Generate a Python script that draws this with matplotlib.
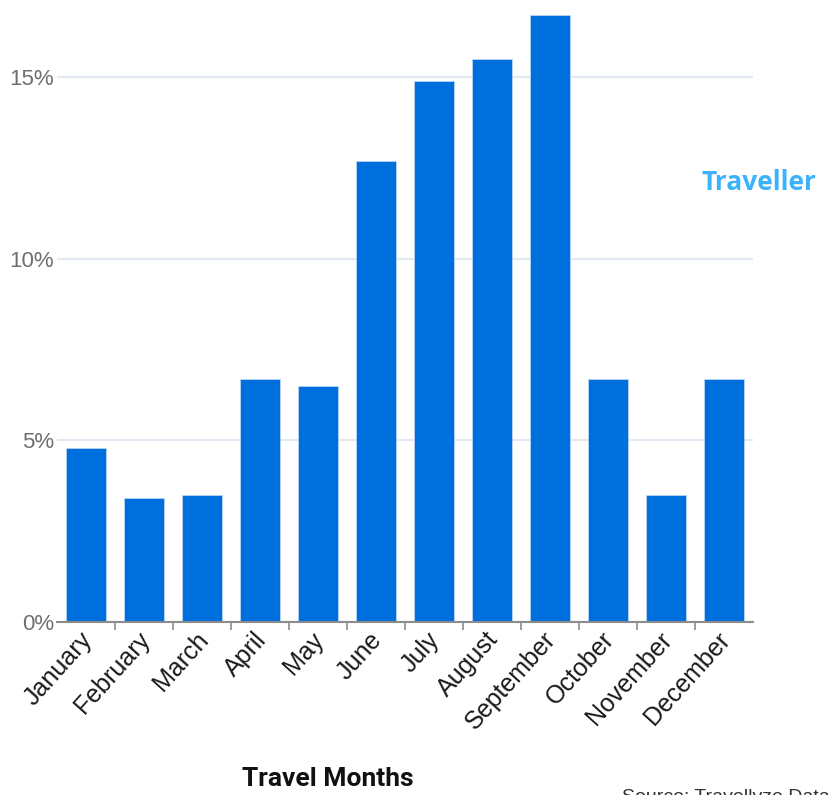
import matplotlib
matplotlib.use("Agg")
import matplotlib.pyplot as plt
from matplotlib.ticker import FuncFormatter
from matplotlib.transforms import ScaledTranslation

months = ["January", "February", "March", "April", "May", "June", "July",
          "August", "September", "October", "November", "December"]
share_pct = [4.8, 3.4, 3.5, 6.7, 6.5, 12.7, 14.9, 15.5, 16.7, 6.7, 3.5, 6.7]
y_ticks = [0, 5, 10, 15]

W, H = 835, 795
fig = plt.figure(figsize=(W / 100, H / 100), dpi=100)
ax = fig.add_axes([57 / W, (H - 622) / H, (753 - 57) / W, 622 / H])

x = list(range(len(months)))
ax.bar(x, share_pct, width=0.69, color="#006fde", edgecolor="#b9d6f5",
       linewidth=0.6, zorder=3)

ax.set_xlim(-0.5, len(months) - 0.5)
ax.set_ylim(0, 17.12)

ax.set_yticks(y_ticks)
ax.yaxis.set_major_formatter(FuncFormatter(lambda v, p: f"{v:.0f}%"))
ax.tick_params(axis="y", length=0, pad=2, labelsize=16, labelcolor="#6f6f6f")
for lbl in ax.get_yticklabels():
    lbl.set_family("Liberation Sans")
ax.grid(axis="y", color="#e3e9f3", linewidth=1.6, zorder=0)

# category ticks sit on the band boundaries
ax.set_xticks([i - 0.5 for i in x[1:]], minor=True)
ax.set_xticks(x)
ax.set_xticklabels(months, rotation=48, ha="right", va="top",
                   rotation_mode="anchor", fontsize=18, color="#1a1a1a",
                   family="Liberation Sans")
ax.tick_params(axis="x", which="major", length=0, pad=4)
ax.tick_params(axis="x", which="minor", length=6, width=1.2, color="#8c8c8c")
shift = ScaledTranslation(-7 / 100, 0, fig.dpi_scale_trans)
for lbl in ax.get_xticklabels():
    lbl.set_transform(lbl.get_transform() + shift)

for side in ("top", "right", "left"):
    ax.spines[side].set_visible(False)
ax.spines["bottom"].set_color("#8c8c8c")
ax.spines["bottom"].set_linewidth(1.5)
ax.spines["bottom"].set_zorder(4)

fig.text(328 / W, 1 - 779 / H, "Travel Months", ha="center", va="center",
         fontsize=19, fontweight="bold", family="Roboto", color="#111111")
fig.text(702 / W, 1 - 182 / H, "Traveller", ha="left", va="center",
         fontsize=19, fontweight="bold", family="Open Sans", color="#3db2fc")
fig.text(622 / W, 1 - 789 / H, "Source: Travellyze Data", ha="left", va="top",
         fontsize=14, family="Liberation Sans", color="#333333")

fig.savefig("out.png", dpi=100)
